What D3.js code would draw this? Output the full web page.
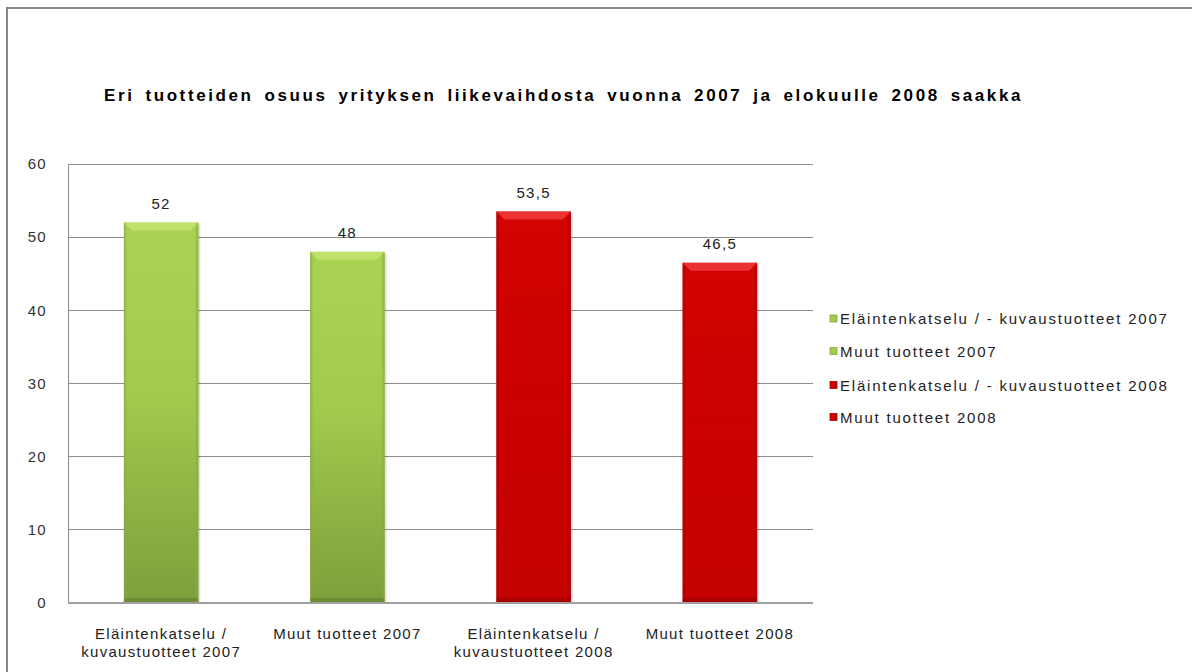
<!DOCTYPE html>
<html lang="fi">
<head>
<meta charset="utf-8">
<title>Eri tuotteiden osuus</title>
<script src="https://d3js.org/d3.v7.min.js"></script>
<style>
  html, body { margin: 0; padding: 0; overflow: hidden; background: #fff; }
  svg { display: block; }
  svg text { font-family: "Liberation Sans", Arial, sans-serif; }
  .lbl { fill: #222; font-size: 15px; letter-spacing: 1.3px; }
  .legend text { fill: #222; font-size: 15px; letter-spacing: 1.8px; }
</style>
</head>
<body>
<svg id="chart" width="1192" height="672"></svg>
<script>
// data
var categories = [
  ["Eläintenkatselu /", "kuvaustuotteet 2007"],
  ["Muut tuotteet 2007"],
  ["Eläintenkatselu /", "kuvaustuotteet 2008"],
  ["Muut tuotteet 2008"]
];
var series = [
  "Eläintenkatselu / - kuvaustuotteet 2007",
  "Muut tuotteet 2007",
  "Eläintenkatselu / - kuvaustuotteet 2008",
  "Muut tuotteet 2008"
];
var values = [52, 48, 53.5, 46.5];
var yTicks = [0, 10, 20, 30, 40, 50, 60];
var title = "Eri tuotteiden osuus yrityksen liikevaihdosta vuonna 2007 ja elokuulle 2008 saakka";

// colour scheme: 2007 green, 2008 red
var palette = [
  { top: "#abd353", mid: "#a2ca4d", bot: "#7d9f3b", bevel: "#c3e46e", side: "#86a840" },
  { top: "#abd353", mid: "#a2ca4d", bot: "#7d9f3b", bevel: "#c3e46e", side: "#86a840" },
  { top: "#d20404", mid: "#cc0000", bot: "#c40202", bevel: "#f03a3a", side: "#a80000" },
  { top: "#d20404", mid: "#cc0000", bot: "#c40202", bevel: "#f03a3a", side: "#a80000" }
];

var svg = d3.select("#chart");
var plot = { left: 68, right: 813, top: 164, bottom: 603 };

// outer frame, only top and left edges are in view
svg.append("path")
  .attr("d", "M7,700L7,8L1200,8")
  .attr("fill", "none")
  .attr("stroke", "#878787")
  .attr("stroke-width", 2);

// title: spread letters, word gaps stretched to the width in the picture
var titleText = svg.append("text")
  .attr("x", 104).attr("y", 101)
  .attr("font-size", 17)
  .attr("font-weight", "bold")
  .attr("fill", "#000")
  .style("letter-spacing", "2.6px")
  .text(title);
var natural = titleText.node().getComputedTextLength();
var gaps = title.split(" ").length - 1;
titleText.style("word-spacing", Math.max(0, (919 - natural) / gaps) + "px");

var x = d3.scaleBand()
  .domain(d3.range(values.length))
  .range([plot.left, plot.right])
  .paddingInner(0.6)
  .paddingOuter(0.3);

var y = d3.scaleLinear()
  .domain([0, 60])
  .range([plot.bottom, plot.top]);

// gradients
var defs = svg.append("defs");
palette.forEach(function (p, i) {
  var g = defs.append("linearGradient")
    .attr("id", "g" + i)
    .attr("x1", 0).attr("y1", 0).attr("x2", 0).attr("y2", 1);
  g.append("stop").attr("offset", "0%").attr("stop-color", p.top);
  g.append("stop").attr("offset", "45%").attr("stop-color", p.mid);
  g.append("stop").attr("offset", "100%").attr("stop-color", p.bot);
  var s = defs.append("linearGradient")
    .attr("id", "s" + i)
    .attr("x1", 0).attr("y1", 0).attr("x2", 1).attr("y2", 0);
  s.append("stop").attr("offset", "0%").attr("stop-color", p.side).attr("stop-opacity", 0.7);
  s.append("stop").attr("offset", "5%").attr("stop-color", p.side).attr("stop-opacity", 0);
  s.append("stop").attr("offset", "95%").attr("stop-color", p.side).attr("stop-opacity", 0);
  s.append("stop").attr("offset", "100%").attr("stop-color", p.side).attr("stop-opacity", 0.8);
});

// gridlines
svg.append("g")
  .selectAll("line")
  .data(yTicks)
  .join("line")
  .attr("x1", plot.left).attr("x2", plot.right)
  .attr("y1", function (d) { return y(d); })
  .attr("y2", function (d) { return y(d); })
  .attr("stroke", "#8c8c8c")
  .attr("stroke-width", 1)
  .attr("shape-rendering", "crispEdges");

// y axis
var yAxis = svg.append("g")
  .attr("transform", "translate(" + plot.left + ",0)")
  .call(d3.axisLeft(y).tickValues(yTicks).tickSize(0).tickPadding(21));
yAxis.select(".domain")
  .attr("stroke", "#8c8c8c")
  .attr("shape-rendering", "crispEdges");
yAxis.selectAll(".tick text")
  .attr("font-size", 15)
  .attr("fill", "#333")
  .style("letter-spacing", "1.3px");

// bars
var bars = svg.append("g")
  .selectAll("g")
  .data(values)
  .join("g");

bars.append("rect")
  .attr("x", function (d, i) { return x(i) + 2; })
  .attr("y", function (d) { return y(d) + 2; })
  .attr("width", x.bandwidth())
  .attr("height", function (d) { return y(0) - y(d) - 2; })
  .attr("fill", "#000")
  .attr("opacity", 0.12);

bars.append("rect")
  .attr("x", function (d, i) { return x(i); })
  .attr("y", function (d) { return y(d); })
  .attr("width", x.bandwidth())
  .attr("height", function (d) { return y(0) - y(d); })
  .attr("fill", function (d, i) { return "url(#g" + i + ")"; });

bars.append("rect")
  .attr("x", function (d, i) { return x(i); })
  .attr("y", function (d) { return y(d); })
  .attr("width", x.bandwidth())
  .attr("height", function (d) { return y(0) - y(d); })
  .attr("fill", function (d, i) { return "url(#s" + i + ")"; });

// top bevel
bars.append("path")
  .attr("d", function (d, i) {
    var x0 = x(i), x1 = x(i) + x.bandwidth(), t = y(d), b = 8;
    return "M" + x0 + "," + t + "L" + x1 + "," + t +
      "L" + (x1 - b) + "," + (t + b) + "L" + (x0 + b) + "," + (t + b) + "Z";
  })
  .attr("fill", function (d, i) { return palette[i].bevel; })
  .attr("opacity", 0.85);

// bottom shade
bars.append("rect")
  .attr("x", function (d, i) { return x(i); })
  .attr("y", y(0) - 5)
  .attr("width", x.bandwidth())
  .attr("height", 5)
  .attr("fill", "#000")
  .attr("opacity", 0.12);

// value labels
bars.append("text")
  .attr("class", "lbl")
  .attr("x", function (d, i) { return x(i) + x.bandwidth() / 2; })
  .attr("y", function (d) { return y(d) - 14; })
  .attr("text-anchor", "middle")
  .text(function (d) { return String(d).replace(".", ","); });

// bottom axis line
svg.append("line")
  .attr("x1", plot.left).attr("x2", plot.right)
  .attr("y1", y(0)).attr("y2", y(0))
  .attr("stroke", "#a0a0a0")
  .attr("stroke-width", 2);

// category labels
var cat = svg.append("g")
  .selectAll("text")
  .data(categories)
  .join("text")
  .attr("class", "lbl")
  .attr("text-anchor", "middle")
  .attr("x", function (d, i) { return x(i) + x.bandwidth() / 2; })
  .attr("y", 639);
cat.selectAll("tspan")
  .data(function (d) { return d; })
  .join("tspan")
  .attr("x", function () { return d3.select(this.parentNode).attr("x"); })
  .attr("dy", function (d, j) { return j === 0 ? 0 : 18; })
  .text(function (d) { return d; });

// legend
var legend = svg.append("g")
  .attr("class", "legend")
  .selectAll("g")
  .data(series)
  .join("g")
  .attr("transform", function (d, i) { return "translate(830," + [318.5, 351, 385, 417][i] + ")"; });

legend.append("rect")
  .attr("x", 0).attr("y", -3.5)
  .attr("width", 7).attr("height", 7)
  .attr("fill", function (d, i) { return palette[i].mid; })
  .attr("stroke", function (d, i) { return palette[i].side; })
  .attr("stroke-width", 0.8);

legend.append("text")
  .attr("x", 10)
  .attr("y", 5.5)
  .text(function (d) { return d; });
</script>
</body>
</html>
